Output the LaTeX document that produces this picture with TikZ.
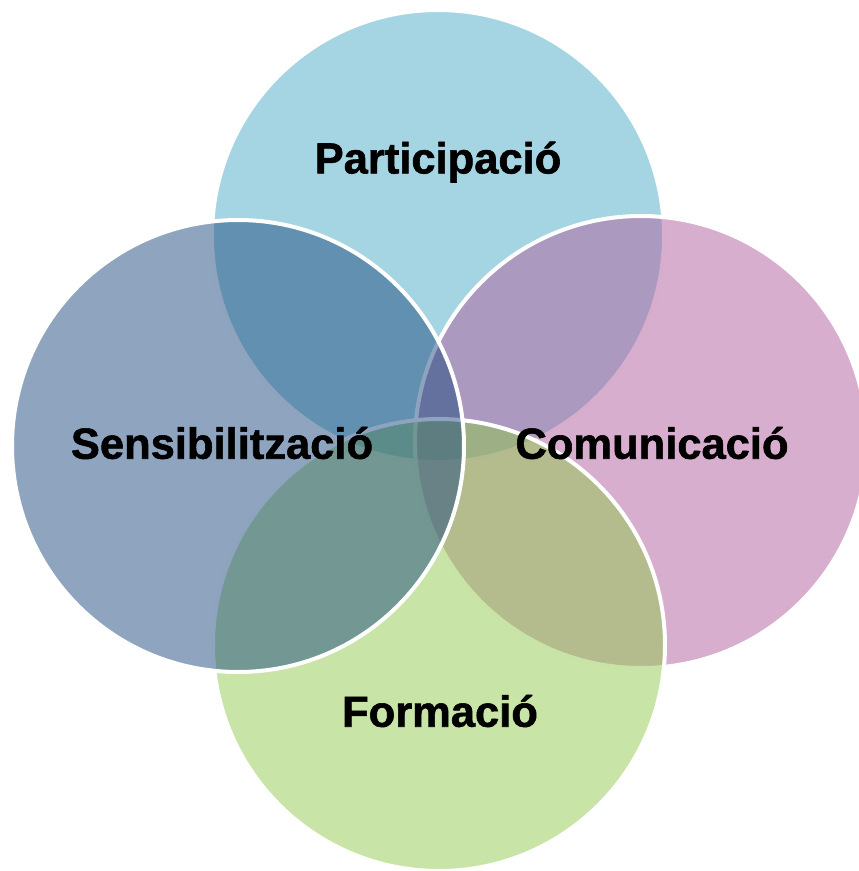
\documentclass[tikz,border=0pt]{standalone}
\usepackage{fontspec}
\setmainfont{Liberation Sans}
\newfontfamily\lblfont{Liberation Sans Bold}[FakeBold=1.3]
\definecolor{ctop}{RGB}{75,171,197}
\definecolor{cleft}{RGB}{31,75,127}
\definecolor{cright}{RGB}{177,93,157}
\definecolor{cbottom}{RGB}{145,201,77}
\tikzset{
  venn/.style={draw=white, line width=4pt, fill opacity=0.5, draw opacity=1},
  lbl/.style={font=\fontsize{43.5}{50}\lblfont, text=black, inner sep=0pt}
}
\begin{document}
\begin{tikzpicture}[x=1pt,y=-1pt]
\useasboundingbox (0,0) rectangle (859,871);
\begin{scope}
\clip (0,0) rectangle (859,871);
\path[venn, fill=ctop] (438,236) circle[radius=226];
\path[venn, fill=cright] (641,442) circle[radius=226];
\path[venn, fill=cbottom] (439,645) circle[radius=226];
\path[venn, fill=cleft] (238,446) circle[radius=226];
\end{scope}
\node[lbl] (p) at (438,162) {Participació};
\node[lbl] (s) at (222,443) {Sensibilització};
\node[lbl] (c) at (652,443) {Comunicació};
\node[lbl] (f) at (440,711) {Formació};
\end{tikzpicture}
\end{document}
